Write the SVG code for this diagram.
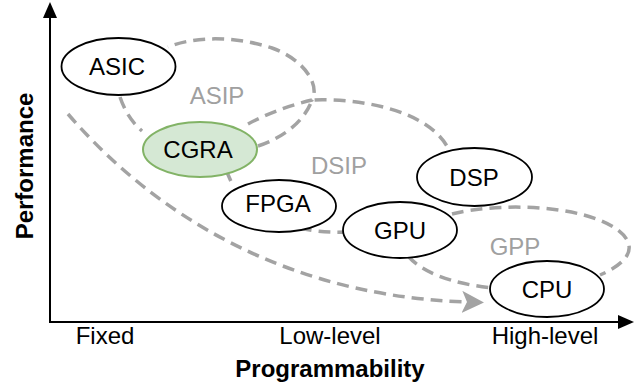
<svg xmlns="http://www.w3.org/2000/svg" width="635" height="390" viewBox="0 0 635 390">
  <style>
    .axis { stroke: #000; stroke-width: 2; fill: none; }
    .region { stroke: #a3a3a3; stroke-width: 3.5; fill: none; stroke-dasharray: 12 7; }
    .node ellipse { fill: #fff; stroke: #000; stroke-width: 1.8; }
    #cgra ellipse { fill: #d5e8d4; stroke: #82b366; stroke-width: 2; }
    text { font-family: "Liberation Sans", Arial, sans-serif; font-size: 24px; text-anchor: middle; }
    .label { fill: #000; }
    .group-label { fill: #a0a0a0; }
    .axis-title { font-weight: bold; }
  </style>
  <defs>
    <marker id="grayArrow" markerUnits="userSpaceOnUse" markerWidth="22" markerHeight="22" viewBox="0 0 22 22" refX="5" refY="11" orient="auto">
      <path d="M0,0 L22,11 L0,22 L5,11 z" fill="#a3a3a3"/>
    </marker>
  </defs>

  <rect width="635" height="390" fill="#fff"/>

  <!-- axes -->
  <g id="axes">
    <line class="axis" x1="50" y1="322" x2="50" y2="14"/>
    <polygon points="50,2 57,18 43,18" fill="#000"/>
    <line class="axis" x1="49" y1="322" x2="620" y2="322"/>
    <polygon points="634,322 618,315 618,329" fill="#000"/>
    <text class="label" x="105" y="344">Fixed</text>
    <text class="label" x="330" y="344">Low-level</text>
    <text class="label" x="545" y="344">High-level</text>
    <text class="label axis-title" x="330" y="377">Programmability</text>
    <text class="label axis-title" transform="translate(33,166) rotate(-90)">Performance</text>
  </g>

  <!-- dashed region boundaries and trend arrow -->
  <g id="connectors">
    <!-- ASIP -->
    <path class="region" d="M120,97 Q127,118 142,131"/>
    <path class="region" d="M248,124 C270,112 295,104 312,100 C320,85 305,60 272,48 C235,36 195,36 168,47"/>
    <!-- DSIP -->
    <path class="region" d="M258,146 C285,137 305,120 312,100 C360,98 430,110 449,150"/>
    <path class="region" d="M226,170 L233,186"/>
    <path class="region" d="M300,228 Q320,233 346,232"/>
    <!-- GPP -->
    <path class="region" d="M452,214 C500,202 580,205 615,228 C640,245 630,262 600,275"/>
    <path class="region" d="M408,256 Q430,281 492,288"/>
    <!-- trend arrow -->
    <path class="region" d="M68,114 C125,180 250,295 467,302" marker-end="url(#grayArrow)"/>
  </g>

  <!-- region labels -->
  <text class="group-label" x="217" y="104">ASIP</text>
  <text class="group-label" x="339" y="174">DSIP</text>
  <text class="group-label" x="515" y="255">GPP</text>

  <!-- nodes -->
  <g id="asic" class="node">
    <ellipse cx="118.5" cy="66.5" rx="57" ry="28.5"/>
    <text class="label" x="117" y="75">ASIC</text>
  </g>
  <g id="cgra" class="node">
    <ellipse cx="200" cy="149.5" rx="57" ry="27.5"/>
    <text class="label" x="198" y="158">CGRA</text>
  </g>
  <g id="fpga" class="node">
    <ellipse cx="279" cy="206" rx="57" ry="26"/>
    <text class="label" x="278" y="212">FPGA</text>
  </g>
  <g id="dsp" class="node">
    <ellipse cx="474.5" cy="177" rx="57.5" ry="29"/>
    <text class="label" x="474" y="186">DSP</text>
  </g>
  <g id="gpu" class="node">
    <ellipse cx="400" cy="230" rx="57" ry="28"/>
    <text class="label" x="400" y="239">GPU</text>
  </g>
  <g id="cpu" class="node">
    <ellipse cx="547" cy="289" rx="57" ry="28"/>
    <text class="label" x="547" y="298">CPU</text>
  </g>
</svg>
